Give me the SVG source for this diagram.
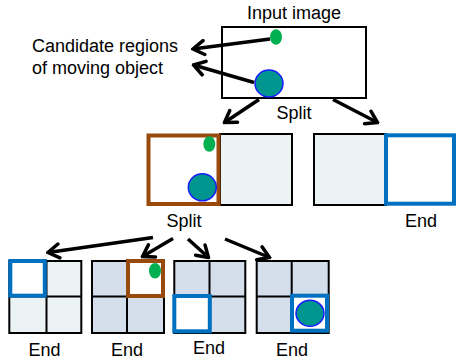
<svg xmlns="http://www.w3.org/2000/svg" width="459" height="360" viewBox="0 0 459 360">
<style>
text{font-family:"Liberation Sans",Arial,sans-serif;font-size:18px;fill:#000}
.c{text-anchor:middle}
.lite{fill:#ebf3f4;stroke:#000;stroke-width:2}
.steel{fill:#d5dfec;stroke:#000;stroke-width:2}
.ln{stroke:#000;stroke-width:2}
.blue{fill:#fff;stroke:#0070c0;stroke-width:4}
.brown{fill:#fff;stroke:#984a0c;stroke-width:4}
.green{fill:#00b050}
.teal{fill:#00968f;stroke:#1a1aff;stroke-width:1.5}
.arr{stroke:#000;stroke-width:3.5;fill:none;marker-end:url(#ah)}
</style>
<defs>
<marker id="ah" markerUnits="userSpaceOnUse" viewBox="-14 -9 16 18" refX="0" refY="0" markerWidth="16" markerHeight="18" orient="auto">
<path d="M-11,-7 L0,0 L-11,7" fill="none" stroke="#000" stroke-width="3.5" stroke-linecap="round"/>
</marker>
</defs>
<g id="labels">
<text x="32" y="52">Candidate regions</text>
<text x="32" y="73.5">of moving object</text>
</g>
<g id="input">
<text class="c" x="294" y="19">Input image</text>
<rect x="222" y="27" width="144" height="71" fill="#fff" stroke="#000" stroke-width="2"/>
<ellipse class="green" cx="276" cy="37" rx="6" ry="7.8"/>
<ellipse class="teal" cx="269" cy="83.5" rx="14" ry="13.5"/>
<text class="c" x="294" y="119">Split</text>
</g>
<g id="split1">
<rect class="lite" x="220" y="134" width="72" height="71"/>
<rect class="brown" x="148.5" y="135.5" width="70" height="68.5"/>
<ellipse class="green" cx="209.3" cy="144" rx="6" ry="7.8"/>
<ellipse class="teal" cx="202.3" cy="187.3" rx="14" ry="13.5"/>
<text class="c" x="184" y="227">Split</text>
</g>
<g id="split2">
<rect class="lite" x="314" y="134" width="72" height="71"/>
<rect class="blue" x="386" y="135.3" width="68" height="68.4"/>
<text class="c" x="421" y="227">End</text>
</g>
<g id="q1">
<rect class="lite" x="9.3" y="261" width="72" height="72"/>
<line class="ln" x1="46.5" y1="261" x2="46.5" y2="333"/>
<line class="ln" x1="9.3" y1="296.5" x2="81.3" y2="296.5"/>
<rect class="blue" x="10.3" y="261" width="34.5" height="34.7"/>
<text class="c" x="44.5" y="355.5">End</text>
</g>
<g id="q2">
<rect class="steel" x="92" y="261" width="72" height="72"/>
<line class="ln" x1="127" y1="261" x2="127" y2="333"/>
<line class="ln" x1="92" y1="296.5" x2="164" y2="296.5"/>
<rect class="brown" x="128" y="261" width="35" height="35"/>
<ellipse class="green" cx="155" cy="270.7" rx="6" ry="7.8"/>
<text class="c" x="127" y="355.5">End</text>
</g>
<g id="q3">
<rect class="steel" x="174.3" y="261" width="71" height="72"/>
<line class="ln" x1="209.5" y1="261" x2="209.5" y2="333"/>
<line class="ln" x1="174.3" y1="296.5" x2="245.3" y2="296.5"/>
<rect class="blue" x="174.3" y="296" width="35.5" height="35.3"/>
<text class="c" x="209" y="354">End</text>
</g>
<g id="q4">
<rect class="steel" x="256.7" y="261" width="72" height="72"/>
<line class="ln" x1="291.7" y1="261" x2="291.7" y2="333"/>
<line class="ln" x1="256.7" y1="296.5" x2="328.7" y2="296.5"/>
<rect class="blue" x="292" y="295.7" width="35" height="35"/>
<ellipse class="teal" cx="310" cy="313.3" rx="14" ry="13"/>
<text class="c" x="292" y="355.5">End</text>
</g>
<g id="connectors">
<line class="arr" x1="270" y1="39" x2="193" y2="49"/>
<line class="arr" x1="254" y1="82.5" x2="193.5" y2="65"/>
<line class="arr" x1="259" y1="99.5" x2="224.5" y2="122.5"/>
<line class="arr" x1="333" y1="99.5" x2="377.5" y2="122.5"/>
<line class="arr" x1="153" y1="237.5" x2="48" y2="252.5"/>
<line class="arr" x1="173" y1="238.5" x2="142.5" y2="256.5"/>
<line class="arr" x1="188" y1="239" x2="208.5" y2="257.5"/>
<line class="arr" x1="225" y1="239" x2="269.5" y2="257.5"/>
</g>
</svg>
